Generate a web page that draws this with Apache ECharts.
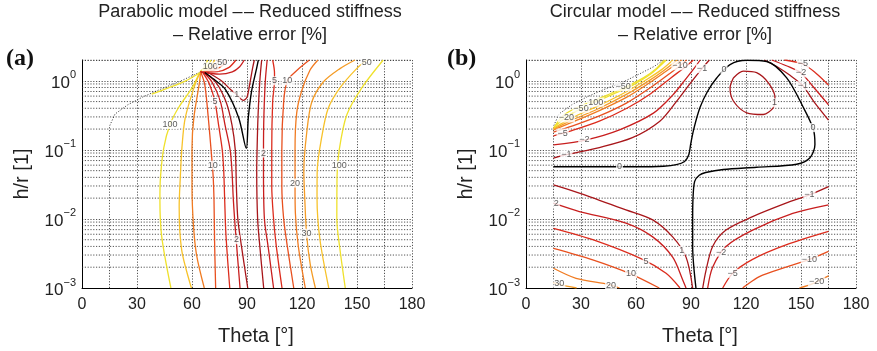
<!DOCTYPE html>
<html>
<head>
<meta charset="utf-8">
<script src="https://cdn.jsdelivr.net/npm/echarts@6/dist/echarts.min.js"></script>
<style>
html,body{margin:0;padding:0;background:#fff}
#chart{width:877px;height:351px}
</style>
</head>
<body>
<div id="chart"></div>
<script>
// Axis ranges
const thetaRange = [0, 180];
const thetaStep = 30;
const hrRange = [0.001, 2];

// Edges of the (theta, h/r) domain
const parabolicEdge = [[15,0.001],[15,0.22],[18,0.33],[25,0.45],[33,0.58],[42,0.74],[53,0.97],[64.5,1.34],[66.5,1.6],[67.5,2.0]];
const circularEdge = [[15,0.001],[15,0.22],[18,0.33],[25,0.45],[33,0.58],[42,0.74],[53,0.96],[63,1.3],[70,1.62],[75,2.0]];
const rightEdge = [[165,0.001],[165,2.0]];

// Parabolic model: contour lines [theta, h/r]
const parZero = [[67,1.32],[72,1.05],[78.2,0.75],[85.5,0.29],[89.6,0.105],[90.7,0.29],[92.5,0.71],[95.3,1.54],[96.2,2.0]];
const parInner1 = [[68,1.35],[76,1.0],[81,0.75],[84.4,0.63],[88,0.52],[90,0.58],[91.5,0.9],[93,1.5],[94,2.0]];
const parL100 = [[64,1.3],[60,0.79],[52.7,0.41],[48,0.233],[44.6,0.107],[42.8,0.04],[42.5,0.019],[43.5,0.0055],[48.5,0.001]];
const parL50 = [[64.3,1.3],[61.6,0.875],[56.3,0.29],[54.5,0.107],[53.6,0.039],[53,0.015],[54.4,0.0035],[59.7,0.001]];
const parL20 = [[64.6,1.3],[64.2,1.0],[61,0.29],[60,0.107],[60,0.03],[60.8,0.008],[62.5,0.003],[66.7,0.001]];
const parL10 = [[65,1.3],[67,0.875],[69,0.27],[70.4,0.1],[71.5,0.043],[72,0.019],[72.3,0.005],[72.9,0.001]];
const parL5 = [[66,1.3],[69.5,0.9],[72.5,0.5],[74.5,0.23],[76.5,0.1],[77.3,0.05],[77.8,0.02],[78.5,0.006],[80.6,0.001]];
const parL2 = [[66,1.35],[71,0.95],[75.5,0.5],[78,0.23],[80.8,0.1],[81.8,0.05],[82.5,0.02],[83.5,0.008],[86.2,0.001]];
const parL1 = [[66,1.35],[73,0.95],[78.5,0.5],[81.8,0.23],[83.6,0.1],[84.2,0.03],[85,0.01],[87,0.004],[90.4,0.001]];
const parR1 = [[98,2.0],[97,1.0],[96,0.3],[95.5,0.1],[95.3,0.05],[95.8,0.01],[97,0.004],[99.1,0.001]];
const parR2 = [[101,2.0],[100,1.0],[99.2,0.3],[99,0.1],[99,0.05],[99.5,0.01],[101.5,0.004],[104.5,0.001]];
const parR5 = [[104,2.0],[105,1.3],[105,1.0],[104,0.5],[103.5,0.1],[103.5,0.03],[104.5,0.01],[106,0.004],[109.1,0.001]];
const parR10 = [[124,2.0],[117,1.4],[112,1.0],[110,0.5],[109,0.1],[109,0.03],[110,0.01],[112,0.004],[115.5,0.001]];
const parR20 = [[128.7,2.0],[124.4,1.43],[119.8,0.71],[117.1,0.34],[116.2,0.1],[116.2,0.03],[116.4,0.012],[118,0.004],[121.8,0.001]];
const parR30 = [[148.9,2.0],[140.7,1.5],[131.6,0.96],[125.3,0.49],[122.6,0.18],[121,0.05],[121.5,0.02],[122.5,0.006],[124.5,0.0022],[127.3,0.001]];
const parR50 = [[155.3,2.0],[149.8,1.5],[140.7,0.79],[134.3,0.4],[130.7,0.15],[128.3,0.05],[128.2,0.02],[129.8,0.005],[134.6,0.001]];
const parR100 = [[164.3,2.0],[152.6,0.79],[144.4,0.32],[140.3,0.1],[139.1,0.04],[139,0.01],[140.5,0.004],[143.6,0.001]];
const parFan100 = [[64.5,1.34],[67,1.6],[68.5,2.0]];
const parFan200 = [[64.5,1.34],[68,1.58],[70.5,2.0]];
const parFan50 = [[64.5,1.34],[69,1.52],[72.5,2.0]];
const parFan20 = [[64.5,1.34],[70.5,1.48],[75,2.0]];
const parFan10 = [[64.5,1.34],[72,1.43],[77,1.7],[79,2.0]];
const parFan5 = [[64.5,1.34],[74,1.36],[80,1.55],[84,2.0]];
const parFan2 = [[64.5,1.34],[75,1.25],[82,1.35],[86,1.6],[88.5,2.0]];
const parEdge100 = [[38,0.64],[46,0.77],[56,0.98],[64.5,1.32]];

const parabolicLines = [
  [0, parZero], [1, parInner1],
  [100, parL100], [50, parL50], [20, parL20], [10, parL10], [5, parL5], [2, parL2], [1, parL1],
  [1, parR1], [2, parR2], [5, parR5], [10, parR10], [20, parR20], [30, parR30], [50, parR50], [100, parR100],
  [100, parFan100], [200, parFan200], [50, parFan50], [20, parFan20], [10, parFan10], [5, parFan5], [2, parFan2],
  [100, parEdge100]
];
const parabolicLabels = [
  [48,0.233,'100'],[71.3,0.06,'10'],[84.3,0.005,'2'],[99,0.09,'2'],[116.2,0.033,'20'],
  [122.5,0.0062,'30'],[140.3,0.06,'100'],[105,1.0,'5'],[112,1.0,'10'],[155.3,1.85,'50'],
  [84.4,0.63,'1'],[72.5,0.5,'5'],[70,1.6,'100'],[76.5,1.85,'50']
];

// Circular model: contour lines [theta, h/r]
const cirZero = [[15,0.057],[40,0.057],[60,0.057],[75,0.058],[82,0.061],[86.5,0.068],[88.8,0.085],[89.8,0.12],[91.5,0.2],[94.9,0.41],[99,0.7],[104,1.1],[111.3,1.72],[120.4,1.98],[131.3,1.9],[142.2,1.1],[151.3,0.41],[156.7,0.2],[157.6,0.12],[154.9,0.077],[147.6,0.062],[125.8,0.056],[107.6,0.052],[98,0.047],[94.5,0.043],[92,0.035],[91.1,0.02],[90.9,0.01],[90.9,0.004],[92.7,0.001]];
const cirLoop1 = [[113.1,1.1],[118.5,1.38],[125.8,1.31],[132.2,0.93],[135.8,0.57],[134.9,0.41],[129.4,0.325],[120.4,0.344],[113.1,0.51],[111.3,0.79],[113.1,1.1]];
const cirN1 = [[15,0.076],[22,0.085],[40,0.108],[58,0.15],[73,0.26],[82,0.5],[90,0.95],[96,1.5],[100,2.0]];
const cirN2 = [[15,0.118],[33,0.14],[51,0.195],[69.5,0.34],[80,0.62],[87,1.05],[92,1.55],[95,2.0]];
const cirN5 = [[15,0.16],[25,0.19],[40,0.26],[55,0.4],[68,0.65],[79,1.1],[87,1.6],[91.3,2.0]];
const cirN10 = [[15,0.18],[25,0.22],[40,0.31],[55,0.48],[68,0.8],[78,1.25],[84,1.65],[87.6,2.0]];
const cirN20 = [[15,0.195],[25,0.25],[40,0.37],[55,0.58],[67,0.92],[76,1.35],[84.9,2.0]];
const cirN30 = [[15,0.2],[25,0.27],[40,0.4],[55,0.64],[66.5,0.98],[75,1.4],[82.5,2.0]];
const cirN50 = [[15,0.205],[25,0.29],[40,0.44],[55,0.7],[66,1.05],[74,1.45],[80.2,2.0]];
const cirN100 = [[15,0.21],[22,0.3],[32,0.42],[45,0.6],[58,0.86],[68,1.25],[76.5,2.0]];
const cirN200 = [[15.5,0.215],[20,0.31],[27,0.4],[38,0.53],[52,0.76],[64,1.1],[71,1.5],[75.5,2.0]];
const cirR1 = [[130,2.0],[137,1.6],[144,1.2],[151,0.85],[157,0.5],[165,0.27]];
const cirR2 = [[134,2.0],[142,1.65],[150,1.3],[157,0.8],[165,0.45]];
const cirR5 = [[141,2.0],[151,1.75],[158,1.3],[165,0.87]];
const cirP1 = [[15,0.031],[29.1,0.0236],[54.5,0.0135],[69.1,0.0097],[80,0.0055],[87.3,0.0028],[90.9,0.001]];
const cirP2 = [[15,0.0169],[29.1,0.0128],[54.5,0.0087],[69.1,0.0055],[80,0.0028],[85.5,0.00131],[87.3,0.001]];
const cirP5 = [[15,0.0073],[36.4,0.005],[63.6,0.0026],[76.4,0.00163],[84,0.001]];
const cirP10 = [[15,0.00376],[36.4,0.00256],[56.4,0.00163],[72.7,0.001]];
const cirP20 = [[15,0.00193],[27.3,0.00138],[45.4,0.00112],[51,0.001]];
const cirP30 = [[15,0.0012],[18.5,0.00112],[27.6,0.001]];
const cirM1 = [[165,0.0294],[154.6,0.0223],[141.8,0.0169],[123.6,0.0108],[109.1,0.0069],[101.8,0.004],[98.2,0.0018],[96.4,0.001]];
const cirM2 = [[165,0.016],[145.5,0.012],[123.6,0.0069],[109.1,0.004],[101.8,0.002],[99.1,0.001]];
const cirM5 = [[165,0.0066],[141.8,0.0042],[123.6,0.0026],[112.7,0.00163],[107.3,0.001]];
const cirM10 = [[165,0.0034],[154.6,0.0026],[141.8,0.002],[127.3,0.00146],[118.2,0.001]];
const cirM20 = [[165,0.0015],[156.4,0.00116],[149.1,0.001]];

const circularLines = [
  [0, cirZero], [1, cirLoop1],
  [-1, cirN1], [-2, cirN2], [-5, cirN5], [-10, cirN10], [-20, cirN20], [-30, cirN30], [-50, cirN50], [-100, cirN100], [-200, cirN200],
  [-1, cirR1], [-2, cirR2], [-5, cirR5],
  [1, cirP1], [2, cirP2], [5, cirP5], [10, cirP10], [20, cirP20], [30, cirP30],
  [-1, cirM1], [-2, cirM2], [-5, cirM5], [-10, cirM10], [-20, cirM20]
];
const circularLabels = [
  [51,0.057,'0'],[108,1.45,'0'],[156.5,0.21,'0'],[135.5,0.48,'1'],
  [22,0.085,'\u22121'],[31.8,0.14,'\u22122'],[20,0.175,'\u22125'],[22,0.29,'\u221220'],[30,0.4,'\u221250'],[38,0.49,'100'],[53,0.82,'\u221250'],
  [84,1.65,'\u221210'],[96,1.5,'\u22121'],
  [151,1.75,'\u22125'],[150,1.3,'\u22122'],[151,0.85,'\u22121'],
  [16.5,0.0165,'2'],[85,0.0035,'1'],[65.5,0.0024,'5'],[57.3,0.00163,'10'],[46.4,0.0011,'20'],[18.2,0.00116,'30'],
  [154.6,0.0223,'\u22121'],[106.4,0.0033,'\u22122'],[112.7,0.00163,'\u22125'],[154.6,0.0026,'\u221210'],[158.5,0.00123,'\u221220']
];

function levelColor(level) {
  const a = Math.abs(level);
  if (a === 0) return '#000000';
  if (a <= 1) return '#a8161a';
  if (a <= 2) return '#c81e1e';
  if (a <= 5) return '#dc2c1d';
  if (a <= 10) return '#e8501f';
  if (a <= 20) return '#f07b22';
  if (a <= 30) return '#f49c26';
  if (a <= 50) return '#f7c22a';
  return '#efe12c';
}

// log-grid minor lines 2..9 x 10^k, plus the top edge
const minorGrid = [];
for (let k = -3; k <= 0; k++) {
  for (let m = 2; m <= 9; m++) {
    const v = +(m * Math.pow(10, k)).toPrecision(6);
    if (v < hrRange[1]) minorGrid.push(v);
  }
}
minorGrid.push(hrRange[1]);

const FONT = 'Liberation Sans, Arial, Helvetica, sans-serif';
const SERIF = 'Liberation Serif, Times New Roman, serif';
const dotted = { type: [1.2, 1.6], color: '#2a2a2a', width: 0.8 };

function gridSeries(gi) {
  return minorGrid.map(v => ({
    type: 'line', xAxisIndex: gi, yAxisIndex: gi,
    data: [[thetaRange[0], v], [thetaRange[1], v]],
    showSymbol: false, symbol: 'none', silent: true, animation: false,
    lineStyle: dotted, z: 1
  }));
}
function contourSeries(lines, gi) {
  return lines.map(([lvl, pts]) => ({
    type: 'line', xAxisIndex: gi, yAxisIndex: gi, data: pts,
    showSymbol: false, symbol: 'none', smooth: 0.3, silent: true, animation: false,
    lineStyle: { color: levelColor(lvl), width: lvl === 0 ? 1.4 : 1.3 },
    z: lvl === 0 ? 4 : 3
  }));
}
function edgeSeries(pts, gi) {
  return {
    type: 'line', xAxisIndex: gi, yAxisIndex: gi, data: pts,
    showSymbol: false, symbol: 'none', silent: true, animation: false,
    lineStyle: { type: [1.2, 1.6], color: '#222', width: 0.8 }, z: 2
  };
}
function labelSeries(labels, gi) {
  return {
    type: 'scatter', xAxisIndex: gi, yAxisIndex: gi, data: labels,
    symbolSize: 0, silent: true, animation: false, z: 6,
    label: {
      show: true, position: 'inside', formatter: p => p.data[2],
      fontSize: 9, fontFamily: FONT, color: '#333',
      backgroundColor: '#fff', padding: [0, 1]
    }
  };
}

function xAxisDef(gi) {
  return {
    gridIndex: gi, type: 'value', min: thetaRange[0], max: thetaRange[1], interval: thetaStep,
    name: 'Theta [\u00b0]', nameLocation: 'middle', nameGap: 38,
    nameTextStyle: { fontSize: 20, fontFamily: FONT, color: '#222', padding: [0, 0, 0, 18] },
    axisLine: { show: true, lineStyle: { color: '#000', width: 1 } },
    axisTick: { show: false },
    axisLabel: { fontSize: 16, fontFamily: FONT, color: '#222', margin: 9 },
    splitLine: { show: true, lineStyle: dotted }
  };
}
function yAxisDef(gi) {
  return {
    gridIndex: gi, type: 'log', logBase: 10, min: hrRange[0], max: hrRange[1],
    name: 'h/r [1]', nameLocation: 'middle', nameGap: 50,
    nameTextStyle: { fontSize: 20, fontFamily: FONT, color: '#222' },
    axisLine: { show: true, lineStyle: { color: '#000', width: 1 } },
    axisTick: { show: false },
    axisLabel: {
      margin: 6, showMaxLabel: false,
      formatter: v => {
        const e = Math.round(Math.log10(v));
        if (Math.abs(v / Math.pow(10, e) - 1) > 0.01) return '';
        return '{b|10}{s|' + (e < 0 ? '\u2212' + (-e) : e) + '}';
      },
      rich: {
        b: { fontSize: 17, fontFamily: FONT, color: '#222', lineHeight: 22, verticalAlign: 'bottom' },
        s: { fontSize: 11, fontFamily: FONT, color: '#222', lineHeight: 22, verticalAlign: 'top' }
      }
    },
    splitLine: { show: true, lineStyle: dotted }
  };
}

const DASHES = '\u2013\u200a\u2013';
const chart = echarts.init(document.getElementById('chart'), null, { renderer: 'canvas' });
chart.setOption({
  animation: false,
  backgroundColor: '#fff',
  grid: [
    { left: 82, top: 60, width: 330, height: 228 },
    { left: 526, top: 60, width: 330, height: 228 }
  ],
  xAxis: [xAxisDef(0), xAxisDef(1)],
  yAxis: [yAxisDef(0), yAxisDef(1)],
  graphic: [
    { type: 'text', x: 250, y: 1, style: { text: 'Parabolic model ' + DASHES + ' Reduced stiffness\n\u2013 Relative error [%]', textAlign: 'center', fontSize: 18, lineHeight: 23, fontFamily: FONT, fill: '#222' } },
    { type: 'text', x: 695, y: 1, style: { text: 'Circular model ' + DASHES + ' Reduced stiffness\n\u2013 Relative error [%]', textAlign: 'center', fontSize: 18, lineHeight: 23, fontFamily: FONT, fill: '#222' } },
    { type: 'text', x: 6, y: 47, style: { text: '(a)', fontSize: 24, fontWeight: 'bold', fontFamily: SERIF, fill: '#111' } },
    { type: 'text', x: 447, y: 47, style: { text: '(b)', fontSize: 24, fontWeight: 'bold', fontFamily: SERIF, fill: '#111' } }
  ],
  series: [
    ...gridSeries(0), ...gridSeries(1),
    edgeSeries(parabolicEdge, 0), edgeSeries(rightEdge, 0),
    edgeSeries(circularEdge, 1), edgeSeries(rightEdge, 1),
    ...contourSeries(parabolicLines, 0),
    ...contourSeries(circularLines, 1),
    labelSeries(parabolicLabels, 0),
    labelSeries(circularLabels, 1)
  ]
});
</script>
</body>
</html>
